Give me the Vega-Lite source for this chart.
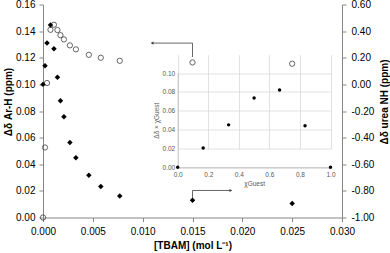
{
  "$schema": "https://vega.github.io/schema/vega-lite/v6.json",
  "width": 299,
  "height": 213,
  "autosize": {"type": "none"},
  "padding": {"left": 43, "top": 4.5, "right": 48, "bottom": 35.5},
  "background": "white",
  "config": {
    "view": {"stroke": null},
    "font": "Liberation Sans",
    "axis": {
      "labelFont": "Liberation Sans",
      "titleFont": "Liberation Sans",
      "grid": false,
      "labelFlush": false,
      "domainColor": "#868686",
      "tickColor": "#868686",
      "labelColor": "#000000",
      "titleColor": "#000000",
      "labelFontSize": 10,
      "titleFontSize": 10,
      "titleFontWeight": "bold",
      "tickSize": 4
    }
  },
  "datasets": {
    "main": [
      {"conc": 0, "arh": 0, "urea": 0.0},
      {"conc": 0.0002, "arh": 0.0526, "urea": 0.14},
      {"conc": 0.0004, "arh": 0.101, "urea": 0.31},
      {"conc": 0.00075, "arh": 0.141, "urea": 0.446},
      {"conc": 0.0011, "arh": 0.1448, "urea": 0.268},
      {"conc": 0.00145, "arh": 0.1408, "urea": 0.053},
      {"conc": 0.00175, "arh": 0.137, "urea": -0.123},
      {"conc": 0.0021, "arh": 0.1338, "urea": -0.244},
      {"conc": 0.0027, "arh": 0.1293, "urea": -0.436},
      {"conc": 0.0033, "arh": 0.1263, "urea": -0.552},
      {"conc": 0.0046, "arh": 0.1222, "urea": -0.682},
      {"conc": 0.0058, "arh": 0.12, "urea": -0.767},
      {"conc": 0.0077, "arh": 0.1177, "urea": -0.838},
      {"conc": 0.015, "arh": 0.1165, "urea": -0.87},
      {"conc": 0.025, "arh": 0.1155, "urea": -0.895}
    ],
    "arrows": [
      {"x": 0.015, "y": 0.1205, "x2": 0.015, "y2": 0.131},
      {"x": 0.015, "y": 0.131, "x2": 0.0109, "y2": 0.131},
      {"x": 0.015, "y": 0.0145, "x2": 0.015, "y2": 0.0203},
      {"x": 0.015, "y": 0.0203, "x2": 0.0189, "y2": 0.0203}
    ],
    "heads": [
      {"x": 0.01095, "y": 0.131, "dir": "left"},
      {"x": 0.01885, "y": 0.0203, "dir": "right"}
    ],
    "inset": [
      {"chi": 0, "jp": 0},
      {"chi": 0.1667, "jp": 0.0205},
      {"chi": 0.3333, "jp": 0.045},
      {"chi": 0.5, "jp": 0.0735},
      {"chi": 0.6667, "jp": 0.082},
      {"chi": 0.8333, "jp": 0.044},
      {"chi": 1, "jp": 0}
    ]
  },
  "layer": [
    {
      "data": {"name": "inset"},
      "mark": {"type": "point", "shape": "circle", "filled": true, "color": "#000000", "size": 12, "opacity": 1},
      "encoding": {
        "x": {
          "field": "chi", "type": "quantitative",
          "scale": {"domain": [0, 1], "range": [134.7, 287.5], "nice": false, "zero": false},
          "axis": {
            "orient": "bottom", "offset": -50.2,
            "values": [0, 0.2, 0.4, 0.6, 0.8, 1.0], "format": ".1f",
            "grid": true, "gridColor": "#d9d9d9", "gridWidth": 0.8,
            "domainColor": "#bfbfbf", "ticks": false,
            "labelFontSize": 6.5, "labelColor": "#595959", "labelPadding": 4,
            "title": "χGuest", "titleFontSize": 6.5, "titleFontWeight": "normal", "titleColor": "#595959", "titlePadding": 3
          }
        },
        "y": {
          "field": "jp", "type": "quantitative",
          "scale": {"domain": [0, 0.1], "range": [162.8, 68.5], "nice": false, "zero": false},
          "axis": {
            "orient": "left", "offset": -134.7,
            "values": [0, 0.02, 0.04, 0.06, 0.08, 0.1], "format": ".2f",
            "grid": true, "gridColor": "#d9d9d9", "gridWidth": 0.8,
            "domainColor": "#bfbfbf", "ticks": false,
            "labelFontSize": 6.5, "labelColor": "#595959", "labelPadding": 3,
            "title": "Δδ × χGuest", "titleFontSize": 6.5, "titleFontWeight": "normal", "titleColor": "#595959", "titlePadding": 3
          }
        }
      }
    },
    {
      "data": {"name": "main"},
      "mark": {"type": "point", "shape": "circle", "filled": false, "stroke": "#404040", "strokeWidth": 0.8, "size": 28, "opacity": 1},
      "encoding": {
        "x": {
          "field": "conc", "type": "quantitative",
          "scale": {"domain": [0, 0.03], "nice": false, "zero": false},
          "axis": {
            "orient": "bottom",
            "values": [0, 0.005, 0.01, 0.015, 0.02, 0.025, 0.03], "format": ".3f",
            "title": "[TBAM] (mol L⁻¹)", "labelPadding": 5, "titlePadding": 4
          }
        },
        "y": {
          "field": "arh", "type": "quantitative",
          "scale": {"domain": [0, 0.16], "nice": false, "zero": false},
          "axis": {
            "orient": "left",
            "values": [0, 0.02, 0.04, 0.06, 0.08, 0.1, 0.12, 0.14, 0.16], "format": ".2f",
            "title": "Δδ Ar-H (ppm)", "titleY": 97, "labelPadding": 4, "titlePadding": 2
          }
        }
      }
    },
    {
      "data": {"name": "main"},
      "mark": {"type": "point", "shape": "diamond", "filled": true, "color": "#000000", "size": 30, "opacity": 1},
      "encoding": {
        "x": {
          "field": "conc", "type": "quantitative",
          "scale": {"domain": [0, 0.03], "nice": false, "zero": false},
          "axis": null
        },
        "y": {
          "field": "urea", "type": "quantitative",
          "scale": {"domain": [-1, 0.6], "nice": false, "zero": false},
          "axis": {
            "orient": "right",
            "values": [-1, -0.8, -0.6, -0.4, -0.2, 0, 0.2, 0.4, 0.6], "format": ".2f",
            "labelExpr": "replace(datum.label, '−', '-')",
            "title": "Δδ urea NH (ppm)", "titleAngle": 270, "titleX": 42, "titleY": 97,
            "titleAlign": "center", "titleBaseline": "middle",
            "labelPadding": 5
          }
        }
      }
    },
    {
      "data": {"name": "arrows"},
      "mark": {"type": "rule", "color": "#404040", "strokeWidth": 0.8},
      "encoding": {
        "x": {"field": "x", "type": "quantitative", "scale": {"domain": [0, 0.03], "nice": false, "zero": false}, "axis": null},
        "x2": {"field": "x2"},
        "y": {"field": "y", "type": "quantitative", "scale": {"domain": [0, 0.16], "nice": false, "zero": false}, "axis": null},
        "y2": {"field": "y2"}
      }
    },
    {
      "data": {"name": "heads"},
      "mark": {"type": "point", "filled": true, "color": "#404040", "size": 10, "opacity": 1},
      "encoding": {
        "x": {"field": "x", "type": "quantitative", "scale": {"domain": [0, 0.03], "nice": false, "zero": false}, "axis": null},
        "y": {"field": "y", "type": "quantitative", "scale": {"domain": [0, 0.16], "nice": false, "zero": false}, "axis": null},
        "shape": {"field": "dir", "type": "nominal", "scale": {"domain": ["left", "right"], "range": ["triangle-left", "triangle-right"]}, "legend": null}
      }
    }
  ],
  "resolve": {
    "scale": {"x": "independent", "y": "independent", "shape": "independent"},
    "axis": {"x": "independent", "y": "independent"}
  }
}
